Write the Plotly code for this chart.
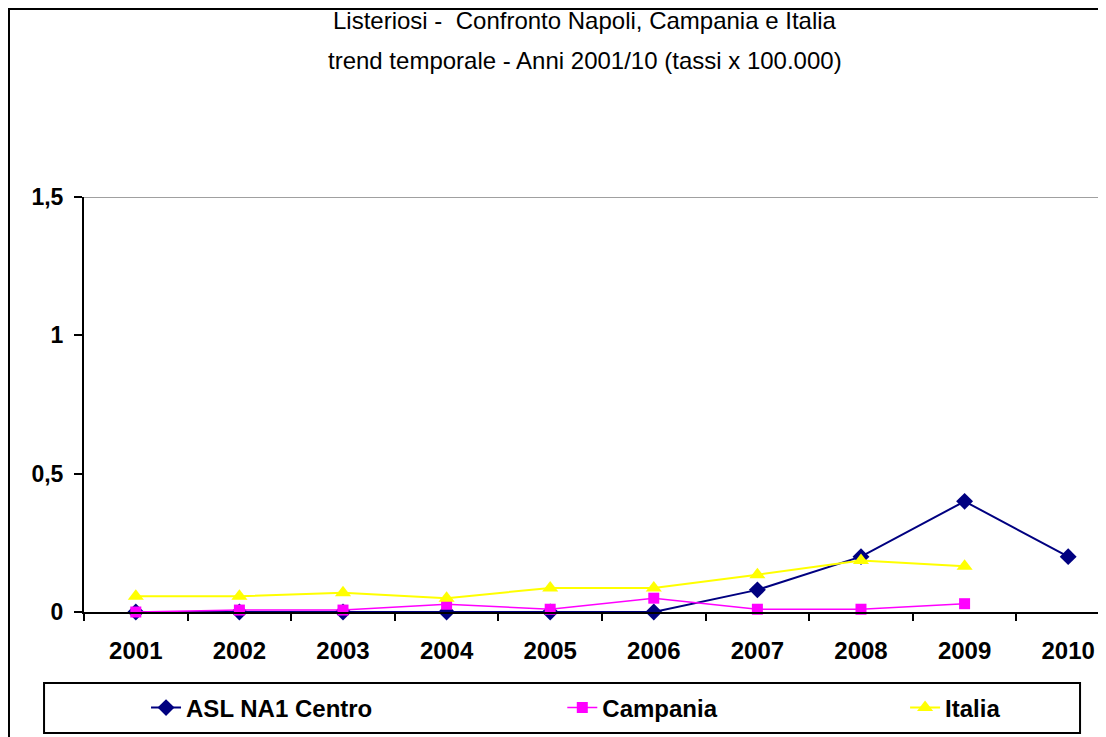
import plotly.graph_objects as go

years = ["2001", "2002", "2003", "2004", "2005", "2006", "2007", "2008", "2009", "2010"]
asl_na1 = [0, 0, 0, 0, 0, 0, 0.08, 0.2, 0.4, 0.2]
campania = [0, 0.007, 0.007, 0.028, 0.01, 0.05, 0.01, 0.01, 0.03, None]
italia = [0.057, 0.057, 0.07, 0.05, 0.087, 0.087, 0.135, 0.186, 0.165, None]

title_1 = "Listeriosi -  Confronto Napoli, Campania e Italia"
title_2 = "trend temporale - Anni 2001/10 (tassi x 100.000)"

FONT = "Liberation Sans, Arial, sans-serif"

fig = go.Figure()

fig.add_trace(go.Scatter(
    x=years, y=asl_na1, name="ASL NA1 Centro", mode="lines+markers",
    line=dict(color="#000080", width=2),
    marker=dict(symbol="diamond", size=13, color="#000080"),
    cliponaxis=False, legend="legend"
))
fig.add_trace(go.Scatter(
    x=years, y=campania, name="Campania", mode="lines+markers",
    line=dict(color="#FF00FF", width=1.5),
    marker=dict(symbol="square", size=11, color="#FF00FF"),
    cliponaxis=False, legend="legend2"
))
fig.add_trace(go.Scatter(
    x=years, y=italia, name="Italia", mode="lines+markers",
    line=dict(color="#FFFF00", width=2),
    marker=dict(symbol="triangle-up", size=14, color="#FFFF00"),
    cliponaxis=False, legend="legend3"
))

legend_style = dict(
    orientation="h", yanchor="middle", y=-0.2313, xanchor="left",
    bgcolor="rgba(0,0,0,0)", borderwidth=0,
    font=dict(family=FONT, size=24, color="black", weight="bold"),
)

# page body has an 8px margin, so the figure is 8px smaller than the window
fig.update_layout(
    width=1098, height=729,
    margin=dict(l=76, r=0, t=189, b=125),
    paper_bgcolor="white", plot_bgcolor="white",
    separators=",.",
    font=dict(family=FONT, color="black"),
    legend=dict(legend_style, x=0.0607),
    legend2=dict(legend_style, x=0.468),
    legend3=dict(legend_style, x=0.8034),
    xaxis=dict(
        type="category", range=[-0.5, 9.365],
        showline=True, linecolor="black", linewidth=2,
        ticks="outside", tickson="boundaries", ticklen=7, tickwidth=2, tickcolor="black",
        showgrid=False, zeroline=False, ticklabelstandoff=16,
        tickfont=dict(family=FONT, size=24, color="black", weight="bold"),
    ),
    yaxis=dict(
        range=[0, 1.5], tickvals=[0, 0.5, 1, 1.5],
        showline=True, linecolor="black", linewidth=2,
        ticks="outside", ticklen=8, tickwidth=2, tickcolor="black",
        showgrid=False, zeroline=False, ticklabelstandoff=6,
        tickfont=dict(family=FONT, size=23, color="black", weight="bold"),
    ),
    showlegend=True,
)

# top border of plot area (grey) and the chart / legend frames
fig.add_shape(type="line", xref="paper", yref="y", x0=0, x1=1, y0=1.5, y1=1.5,
              line=dict(color="#808080", width=1.5), layer="below")
fig.add_shape(type="rect", xref="paper", yref="paper",
              x0=-0.0734, x1=1.05, y0=-0.35, y1=1.453,
              line=dict(color="black", width=2))
fig.add_shape(type="rect", xref="paper", yref="paper",
              x0=-0.0391, x1=0.9746, y0=-0.2916, y1=-0.1711,
              line=dict(color="black", width=2))

fig.add_annotation(text=title_1, xref="paper", yref="paper", x=0.49, y=1.4265,
                   yanchor="middle", showarrow=False,
                   font=dict(family=FONT, size=24, color="black"))
fig.add_annotation(text=title_2, xref="paper", yref="paper", x=0.49, y=1.330,
                   yanchor="middle", showarrow=False,
                   font=dict(family=FONT, size=24, color="black"))

fig.write_html("out.html")
